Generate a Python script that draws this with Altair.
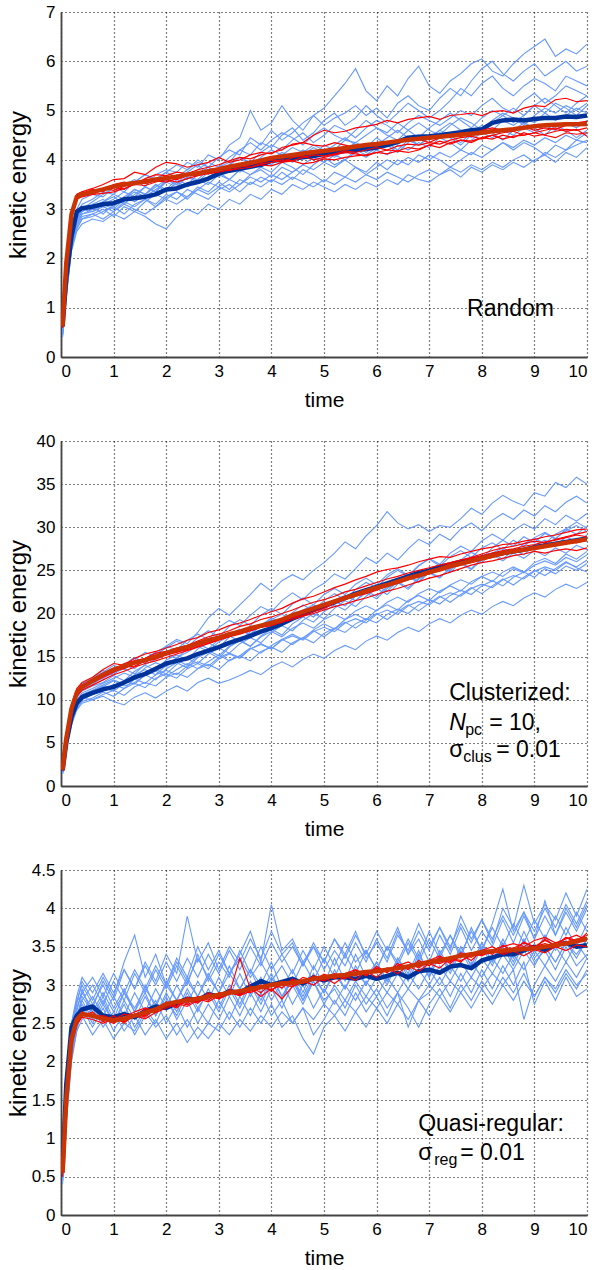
import altair as alt
import pandas as pd

# ---------------- time grid ----------------
T = [0.03, 0.1, 0.2, 0.3, 0.4,
     0.6, 0.8, 1.0, 1.2, 1.4, 1.6, 1.8, 2.0,
     2.2, 2.4, 2.6, 2.8, 3.0, 3.2, 3.4, 3.6,
     3.8, 4.0, 4.2, 4.4, 4.6, 4.8, 5.0, 5.2,
     5.4, 5.6, 5.8, 6.0, 6.2, 6.4, 6.6, 6.8,
     7.0, 7.2, 7.4, 7.6, 7.8, 8.0, 8.2, 8.4,
     8.6, 8.8, 9.0, 9.2, 9.4, 9.6, 9.8, 10.0]

XTICKS = [0, 1, 2, 3, 4, 5, 6, 7, 8, 9, 10]

# ---------------- panel 1 : Random ----------------
RND_YTICKS = [0, 1, 2, 3, 4, 5, 6, 7]
RND_DARK = [0.62, 1.6, 2.45, 2.95, 3.02,
            3.05, 3.1, 3.12, 3.2, 3.22, 3.25, 3.3, 3.4,
            3.42, 3.5, 3.55, 3.62, 3.72, 3.78, 3.82, 3.86,
            3.9, 3.98, 4.0, 4.02, 4.05, 4.08, 4.12, 4.15,
            4.18, 4.2, 4.22, 4.25, 4.3, 4.36, 4.45, 4.47,
            4.48, 4.5, 4.53, 4.56, 4.6, 4.62, 4.75, 4.8,
            4.82, 4.8, 4.83, 4.85, 4.85, 4.88, 4.87, 4.9]
RND_MEAN = [0.62, 1.9, 2.9, 3.25, 3.3,
            3.35, 3.4, 3.46, 3.5, 3.53, 3.56, 3.6, 3.63,
            3.66, 3.7, 3.73, 3.77, 3.81, 3.86, 3.9, 3.94,
            3.99, 4.04, 4.07, 4.1, 4.13, 4.16, 4.18, 4.21,
            4.24, 4.27, 4.3, 4.32, 4.35, 4.38, 4.41, 4.43,
            4.45, 4.47, 4.49, 4.51, 4.53, 4.55, 4.58, 4.6,
            4.62, 4.65, 4.68, 4.7, 4.71, 4.72, 4.72, 4.73]
RND_RED = [
    [0.6, 1.9, 2.95, 3.3, 3.35,
     3.42, 3.5, 3.6, 3.62, 3.75, 3.7, 3.85, 3.95,
     3.92, 3.85, 3.9, 3.95, 4.05, 3.95, 4.0, 4.1,
     4.15, 4.12, 4.25, 4.3, 4.35, 4.5, 4.6, 4.55,
     4.58, 4.65, 4.68, 4.72, 4.8, 4.75, 4.82, 4.85,
     4.88, 4.82, 4.9, 4.92, 4.95, 4.9, 4.98, 5.0,
     4.95, 5.05, 5.1, 5.08, 5.22, 5.25, 5.18, 5.2],
    [0.6, 1.85, 2.85, 3.2, 3.3,
     3.4, 3.35, 3.5, 3.55, 3.5, 3.62, 3.7, 3.68,
     3.75, 3.72, 3.8, 3.85, 3.9, 3.98, 4.05, 4.02,
     4.1, 4.15, 4.2, 4.32, 4.35, 4.3, 4.28, 4.35,
     4.3, 4.25, 4.3, 4.28, 4.35, 4.38, 4.4, 4.42,
     4.35, 4.45, 4.5, 4.55, 4.52, 4.6, 4.65, 4.6,
     4.62, 4.68, 4.6, 4.65, 4.62, 4.7, 4.75, 4.78],
    [0.62, 1.95, 2.9, 3.2, 3.25,
     3.3, 3.32, 3.35, 3.42, 3.5, 3.48, 3.55, 3.6,
     3.55, 3.62, 3.68, 3.72, 3.75, 3.8, 3.82, 3.85,
     3.9, 3.88, 3.95, 3.98, 3.92, 3.95, 4.02, 4.0,
     4.05, 4.08, 4.1, 4.15, 4.12, 4.18, 4.15, 4.2,
     4.3, 4.25, 4.35, 4.4, 4.38, 4.45, 4.5, 4.42,
     4.48, 4.5, 4.55, 4.5, 4.45, 4.55, 4.52, 4.55],
    [0.6, 1.9, 2.95, 3.3, 3.35,
     3.3, 3.4, 3.45, 3.4, 3.52, 3.6, 3.58, 3.55,
     3.62, 3.7, 3.68, 3.78, 3.82, 3.78, 3.85, 3.9,
     3.95, 4.0, 3.95, 4.05, 4.08, 4.0, 4.05, 4.1,
     4.15, 4.12, 4.08, 4.15, 4.2, 4.18, 4.25, 4.22,
     4.3, 4.38, 4.32, 4.4, 4.35, 4.45, 4.42, 4.5,
     4.45, 4.55, 4.48, 4.52, 4.58, 4.62, 4.6, 4.65],
    [0.62, 1.88, 2.92, 3.28, 3.32,
     3.36, 3.42, 3.38, 3.46, 3.55, 3.52, 3.58, 3.65,
     3.6, 3.68, 3.75, 3.72, 3.78, 3.85, 3.88, 3.85,
     3.92, 3.95, 4.0, 3.98, 4.05, 4.1, 4.08, 4.12,
     4.18, 4.15, 4.2, 4.25, 4.2, 4.28, 4.32, 4.3,
     4.35, 4.32, 4.4, 4.45, 4.48, 4.42, 4.5, 4.55,
     4.58, 4.5, 4.55, 4.6, 4.65, 4.58, 4.62, 4.48],
]
RND_BLUE = [
    [0.55, 1.5, 2.5, 2.9, 3.1,
     3.2, 3.35, 3.3, 3.5, 3.6, 3.45, 3.7, 3.8,
     3.75, 3.95, 3.85, 4.1, 4.0, 4.3, 4.45, 5.0,
     4.6, 4.75, 5.1, 4.8, 4.6, 4.9, 5.05, 5.3,
     5.55, 5.85, 5.4, 5.2, 5.5, 5.3, 5.65, 5.9,
     5.5, 5.35, 5.6, 5.75, 5.95, 6.05, 5.8, 5.7,
     5.95, 6.15, 6.3, 6.45, 6.1, 6.25, 6.15, 6.35],
    [0.6, 1.6, 2.6, 3.0, 3.2,
     3.3, 3.25, 3.45, 3.4, 3.55, 3.7, 3.6, 3.75,
     3.9, 3.8, 4.0, 3.85, 4.05, 4.2, 4.1, 4.45,
     4.3, 4.6, 4.4, 4.55, 4.75, 4.9, 4.7, 4.85,
     4.95, 5.1, 4.9, 5.05, 4.85, 5.15, 5.3, 5.1,
     5.0, 5.25, 5.45, 5.3, 5.6, 5.85, 6.0, 5.75,
     5.6, 5.8, 5.95, 5.7, 5.85, 6.0, 5.8, 5.9],
    [0.5, 1.4, 2.4, 2.85, 3.0,
     3.05, 3.15, 3.25, 3.1, 3.3, 3.45, 3.35, 3.6,
     3.5, 3.75, 3.9, 3.7, 3.85, 3.95, 4.2, 4.1,
     4.35, 4.25, 4.5, 4.65, 4.4, 4.55, 4.8, 4.95,
     4.7, 4.85, 5.1, 4.9, 4.75, 4.95, 5.15, 5.0,
     4.85, 5.0, 5.2, 5.45, 5.3, 5.55, 5.7, 5.45,
     5.3, 5.5, 5.65, 5.55, 5.4, 5.7, 5.6, 5.5],
    [0.45, 1.3, 2.3, 2.7, 2.9,
     2.95, 3.1, 3.0, 3.2, 3.35, 3.25, 3.4, 3.55,
     3.45, 3.65, 3.6, 3.8, 3.7, 3.9, 4.05, 3.95,
     4.15, 4.3, 4.2, 4.4, 4.55, 4.35, 4.5, 4.7,
     4.6, 4.45, 4.65, 4.8, 4.7, 4.55, 4.75, 4.9,
     4.8, 4.7, 4.85, 5.0, 4.9, 5.1, 5.25, 5.05,
     4.95, 5.2, 5.35, 5.15, 5.3, 5.5, 5.4, 5.3],
    [0.55, 1.45, 2.35, 2.75, 2.95,
     3.05, 2.9, 3.1, 3.25, 3.15, 3.3, 3.5, 3.4,
     3.6, 3.5, 3.7, 3.85, 3.75, 3.6, 3.8, 3.95,
     3.85, 4.0, 4.15, 4.05, 4.2, 4.1, 4.3, 4.2,
     4.4, 4.35, 4.5, 4.65, 4.5, 4.4, 4.6, 4.75,
     4.6, 4.5, 4.7, 4.85, 4.75, 4.6, 4.8, 4.95,
     4.85, 4.7, 4.9, 5.05, 4.95, 5.1, 5.0, 5.15],
    [0.4, 1.2, 2.2, 2.6, 2.8,
     2.85, 2.95, 3.05, 2.9, 3.1, 3.2, 3.05, 3.25,
     3.35, 3.2, 3.4, 3.55, 3.45, 3.6, 3.5, 3.7,
     3.8, 3.65, 3.85, 3.75, 3.9, 4.05, 3.95, 4.1,
     4.0, 4.2, 4.1, 4.25, 4.35, 4.2, 4.4, 4.3,
     4.45, 4.6, 4.5, 4.35, 4.55, 4.7, 4.6, 4.8,
     4.7, 4.85, 4.75, 4.95, 4.8, 4.9, 5.05, 4.95],
    [0.6, 1.55, 2.55, 2.9, 3.05,
     3.0, 3.15, 3.3, 3.2, 3.4, 3.3, 3.5, 3.35,
     3.55, 3.45, 3.6, 3.5, 3.7, 3.6, 3.8, 3.7,
     3.85, 3.75, 3.95, 3.85, 3.7, 3.9, 4.05, 3.9,
     4.0, 4.15, 4.05, 4.2, 4.1, 4.3, 4.2, 4.35,
     4.25, 4.45, 4.35, 4.2, 4.4, 4.55, 4.45, 4.6,
     4.5, 4.65, 4.55, 4.7, 4.6, 4.75, 4.65, 4.8],
    [0.5, 1.35, 2.25, 2.65, 2.85,
     2.9, 3.0, 2.85, 3.05, 2.95, 3.15, 3.3, 3.2,
     3.35, 3.25, 3.45, 3.35, 3.55, 3.4, 3.6, 3.5,
     3.65, 3.55, 3.75, 3.6, 3.8, 3.7, 3.55, 3.75,
     3.65, 3.85, 3.75, 3.95, 3.8, 4.0, 3.9, 4.1,
     4.0, 4.15, 4.05, 4.2, 4.1, 4.3, 4.2, 4.35,
     4.25, 4.4, 4.3, 4.45, 4.35, 4.5, 4.4, 4.55],
    [0.45, 1.25, 2.15, 2.55, 2.7,
     2.8, 2.75, 2.9, 2.8, 2.95, 2.85, 2.7, 2.6,
     2.85, 3.0, 2.9, 3.1, 3.0, 3.2, 3.1, 3.3,
     3.2, 3.4, 3.3, 3.5, 3.4, 3.55, 3.45, 3.35,
     3.5, 3.4, 3.55, 3.45, 3.6, 3.5, 3.7, 3.6,
     3.55, 3.7, 3.8, 3.65, 3.85, 3.75, 3.9, 3.8,
     3.95, 3.85, 4.0, 4.1, 3.95, 4.15, 4.05, 4.25],
    [0.55, 1.5, 2.45, 2.8, 2.95,
     3.1, 3.2, 3.05, 3.25, 3.4, 3.3, 3.45, 3.6,
     3.5, 3.65, 3.55, 3.75, 3.65, 3.85, 3.75, 3.9,
     4.0, 3.9, 4.1, 4.25, 4.15, 4.3, 4.2, 4.05,
     4.2, 4.35, 4.25, 4.45, 4.3, 4.15, 4.35, 4.5,
     4.4, 4.55, 4.45, 4.3, 4.5, 4.65, 4.55, 4.4,
     4.6, 4.75, 4.65, 4.5, 4.7, 4.6, 4.45, 4.6],
    [0.5, 1.4, 2.3, 2.7, 2.9,
     3.0, 3.1, 3.2, 3.35, 3.25, 3.45, 3.35, 3.55,
     3.7, 3.6, 3.8, 3.95, 3.85, 4.05, 4.2, 4.35,
     4.2, 4.4, 4.55, 4.45, 4.3, 4.5, 4.65, 4.5,
     4.4, 4.6, 4.8, 4.65, 4.55, 4.75, 4.6, 4.45,
     4.65, 4.8, 4.95, 4.8, 4.65, 4.85, 5.0, 4.9,
     4.75, 4.9, 5.1, 4.95, 5.15, 5.05, 4.9, 5.1],
    [0.6, 1.55, 2.5, 2.85, 3.0,
     2.95, 3.05, 2.95, 3.15, 3.05, 3.2, 3.1, 3.3,
     3.2, 3.4, 3.3, 3.2, 3.4, 3.5, 3.35, 3.55,
     3.45, 3.6, 3.5, 3.65, 3.55, 3.45, 3.6, 3.5,
     3.65, 3.55, 3.7, 3.6, 3.75, 3.65, 3.55, 3.7,
     3.8, 3.7, 3.85, 3.75, 3.9, 3.8, 3.95, 3.85,
     4.0, 4.1, 3.95, 4.15, 4.05, 4.2, 4.3, 4.4],
    [0.5, 1.45, 2.4, 2.8, 3.0,
     3.15, 3.3, 3.45, 3.35, 3.55, 3.7, 3.6, 3.75,
     3.65, 3.8, 3.95, 3.85, 3.7, 3.9, 4.05, 3.9,
     4.05, 4.2, 4.1, 3.95, 4.1, 4.25, 4.15, 4.3,
     4.45, 4.3, 4.15, 4.3, 4.45, 4.6, 4.45, 4.3,
     4.45, 4.6, 4.75, 4.6, 4.45, 4.6, 4.75, 4.9,
     5.05, 4.9, 5.1, 5.25, 5.1, 4.95, 5.15, 5.3],
    [0.45, 1.3, 2.25, 2.6, 2.8,
     2.9, 2.8, 2.95, 3.1, 3.0, 2.9, 3.05, 3.2,
     3.1, 3.25, 3.4, 3.3, 3.45, 3.35, 3.5, 3.65,
     3.55, 3.7, 3.6, 3.75, 3.9, 3.8, 3.95, 3.85,
     4.0, 3.85, 3.7, 3.85, 4.0, 3.9, 4.05, 3.95,
     4.1, 4.0, 3.85, 4.0, 4.15, 4.05, 4.2, 4.35,
     4.2, 4.35, 4.25, 4.1, 4.3, 4.2, 4.4, 4.35],
]

# ---------------- panel 2 : Clusterized ----------------
CLU_YTICKS = [0, 5, 10, 15, 20, 25, 30, 35, 40]
CLU_DARK = [1.8, 5.0, 8.0, 9.6, 10.3,
            10.8, 11.2, 11.5, 12.0, 12.6, 13.0, 13.6, 14.2,
            14.5, 14.8, 15.3, 15.7, 16.1, 16.6, 17.0, 17.4,
            17.9, 18.3, 18.8, 19.4, 19.9, 20.4, 20.9, 21.3,
            21.8, 22.3, 22.7, 23.1, 23.5, 23.9, 24.3, 24.7,
            25.0, 25.4, 25.7, 26.0, 26.2, 26.5, 26.8, 27.0,
            27.2, 27.4, 27.7, 27.9, 28.1, 28.3, 28.5, 28.7]
CLU_MEAN = [1.9, 5.5, 9.0, 10.8, 11.5,
            12.2, 12.9, 13.5, 13.9, 14.3, 14.6, 15.0, 15.4,
            15.8, 16.1, 16.5, 16.9, 17.2, 17.6, 17.9, 18.3,
            18.6, 18.9, 19.3, 19.8, 20.2, 20.6, 21.0, 21.4,
            21.8, 22.2, 22.6, 23.0, 23.3, 23.7, 24.1, 24.4,
            24.8, 25.1, 25.5, 25.8, 26.1, 26.4, 26.7, 27.0,
            27.2, 27.4, 27.6, 27.8, 28.0, 28.2, 28.4, 28.6]
CLU_RED = [
    [1.9, 5.8, 9.5, 11.3, 12.0,
     12.6, 13.5, 14.2, 14.0, 14.8, 15.3, 15.6, 16.0,
     16.4, 16.9, 17.2, 17.8, 18.1, 18.6, 18.9, 19.3,
     19.8, 20.2, 20.6, 21.2, 21.7, 22.0, 22.5, 23.0,
     23.4, 23.9, 24.3, 24.8, 25.1, 25.3, 25.6, 26.0,
     26.3, 26.6, 26.5, 26.9, 27.2, 27.5, 27.7, 28.0,
     28.1, 28.4, 28.6, 28.9, 29.1, 29.4, 29.7, 29.8],
    [1.8, 5.3, 8.7, 10.6, 11.3,
     12.0, 12.6, 13.2, 13.8, 13.9, 14.5, 14.7, 15.2,
     15.5, 15.9, 16.4, 16.6, 17.0, 17.5, 17.7, 18.1,
     18.5, 18.7, 19.0, 19.5, 19.8, 20.2, 20.6, 21.2,
     21.6, 22.0, 22.3, 22.7, 23.2, 23.6, 24.0, 24.5,
     24.9, 25.3, 25.8, 26.2, 26.5, 26.9, 27.3, 27.6,
     27.8, 28.1, 28.4, 28.2, 28.6, 28.9, 29.2, 29.5],
    [1.9, 5.4, 8.9, 10.7, 11.4,
     12.3, 12.7, 13.3, 13.6, 14.2, 14.4, 14.9, 15.2,
     15.6, 15.8, 16.2, 16.7, 17.0, 17.3, 17.8, 18.0,
     18.4, 18.6, 19.0, 19.3, 19.7, 20.0, 20.4, 20.8,
     21.1, 21.5, 21.8, 22.2, 22.6, 22.9, 23.3, 23.7,
     24.1, 24.4, 24.8, 25.2, 25.6, 25.9, 26.1, 26.4,
     26.7, 26.9, 27.2, 27.0, 27.3, 27.5, 27.3, 27.6],
    [2.0, 5.6, 9.1, 11.0, 11.7,
     12.1, 13.0, 13.4, 14.2, 14.5, 14.8, 15.4, 15.6,
     16.0, 16.3, 16.8, 17.3, 17.6, 18.0, 18.5, 18.8,
     19.3, 19.6, 20.0, 20.4, 20.9, 21.3, 21.6, 22.0,
     22.5, 22.8, 23.2, 23.6, 24.0, 24.3, 24.7, 25.0,
     25.3, 25.6, 25.9, 26.2, 26.4, 26.7, 27.0, 27.3,
     27.5, 27.8, 28.0, 28.3, 28.5, 28.8, 29.1, 28.9],
    [1.8, 5.2, 8.5, 10.4, 11.1,
     11.7, 12.3, 12.9, 13.3, 13.8, 14.2, 14.5, 14.9,
     15.3, 15.7, 16.1, 16.5, 16.9, 17.3, 17.6, 18.0,
     18.4, 18.8, 19.2, 19.6, 20.0, 20.5, 20.9, 21.3,
     21.7, 22.1, 22.5, 22.9, 23.2, 23.5, 23.9, 24.3,
     24.6, 25.0, 25.3, 25.6, 25.9, 26.2, 26.5, 26.8,
     27.1, 27.3, 27.6, 27.9, 28.1, 28.4, 28.2, 28.5],
]
CLU_BLUE = [
    [1.7, 5.5, 9.0, 10.8, 11.8,
     12.4, 13.2, 14.0, 13.5, 14.6, 15.5, 15.0, 16.2,
     17.0, 16.5, 17.8, 19.5, 20.6, 19.8, 21.0, 22.2,
     23.5, 22.6, 23.8, 24.5, 23.9, 25.0, 25.9, 27.0,
     28.3, 27.5, 29.0, 30.2, 31.8, 30.5, 29.8, 30.3,
     29.5, 30.2, 30.0, 31.0, 32.2, 31.5, 32.8, 33.7,
     33.0, 32.5, 34.0, 33.6, 35.2, 34.6, 35.8, 35.0],
    [1.6, 5.0, 8.5, 10.2, 11.2,
     11.8, 12.6, 13.2, 14.0, 13.6, 14.8, 15.5, 16.2,
     15.8, 16.9, 17.6, 17.0, 18.4, 19.2, 18.6, 19.8,
     20.8, 20.2, 21.5, 22.4, 21.6, 22.8, 23.5, 24.6,
     24.0, 25.2, 26.5, 25.8, 27.0, 26.2, 27.5, 28.6,
     28.0, 29.2, 28.5, 29.8, 30.5, 29.6, 30.8, 31.6,
     30.9, 32.0, 31.3, 32.5, 31.8, 32.9, 33.6, 32.8],
    [1.8, 5.2, 8.6, 10.5, 11.0,
     11.6, 12.0, 12.8, 12.2, 13.3, 14.0, 13.4, 14.6,
     15.2, 14.6, 15.9, 16.6, 16.0, 17.3, 18.1, 17.5,
     18.6, 19.5, 18.8, 20.1, 21.0, 20.3, 21.5, 22.3,
     21.6, 22.8, 23.6, 23.0, 24.2, 25.0, 24.3, 25.5,
     26.4, 25.7, 27.0, 27.8, 27.2, 28.4, 29.2, 28.5,
     29.6, 30.4, 29.8, 31.0, 30.3, 31.4, 30.7, 31.6],
    [1.5, 4.8, 8.0, 9.8, 10.5,
     11.0, 11.6, 11.2, 12.2, 11.8, 12.9, 13.5, 13.0,
     14.1, 14.8, 14.2, 15.3, 16.0, 15.4, 16.5, 17.2,
     16.6, 17.8, 18.6, 18.0, 19.2, 20.0, 19.4, 20.6,
     21.5, 20.8, 22.0, 22.9, 22.2, 23.4, 24.3, 23.6,
     24.8, 25.6, 25.0, 26.2, 27.1, 26.4, 27.6, 28.5,
     27.8, 28.9, 28.2, 29.3, 28.6, 29.8, 30.6, 29.9],
    [1.6, 4.6, 7.6, 9.3, 10.0,
     10.6, 11.0, 11.8, 11.3, 12.4, 12.9, 12.3, 13.6,
     14.3, 13.7, 14.9, 15.5, 14.8, 16.1, 16.9, 16.2,
     17.4, 18.2, 17.5, 18.8, 19.6, 19.0, 20.2, 21.0,
     20.4, 21.5, 22.4, 21.7, 22.9, 23.6, 22.8, 24.0,
     24.7, 24.1, 25.3, 25.9, 25.2, 26.4, 27.0, 26.3,
     27.4, 26.8, 27.9, 28.5, 27.8, 28.9, 28.3, 29.1],
    [1.7, 5.1, 8.3, 10.0, 10.8,
     11.3, 11.9, 12.5, 13.1, 12.6, 13.7, 14.3, 13.8,
     14.9, 15.5, 16.2, 15.6, 16.7, 17.4, 16.8, 17.9,
     18.5, 19.2, 18.6, 19.7, 20.3, 19.6, 20.8, 21.4,
     20.9, 22.0, 22.6, 22.0, 23.1, 23.7, 23.0, 24.1,
     24.8, 24.2, 25.2, 25.8, 25.1, 26.2, 26.8, 26.1,
     27.0, 26.4, 27.3, 26.7, 27.6, 27.0, 27.9, 27.4],
    [1.5, 4.5, 7.4, 9.0, 9.8,
     10.2, 10.9, 10.4, 11.3, 11.9, 11.4, 12.5, 13.0,
     12.5, 13.6, 14.2, 13.6, 14.7, 15.3, 14.8, 15.9,
     16.5, 15.9, 17.0, 17.6, 17.0, 18.1, 18.8, 18.2,
     19.3, 19.9, 19.3, 20.4, 21.0, 20.4, 21.5, 22.1,
     21.5, 22.6, 23.2, 22.6, 23.7, 24.3, 23.7, 24.8,
     25.4, 24.8, 25.9, 26.4, 25.8, 26.9, 26.3, 27.2],
    [1.6, 4.7, 7.8, 9.5, 10.2,
     10.0, 10.6, 11.1, 10.5, 11.5, 12.0, 11.6, 12.6,
     13.1, 12.6, 13.6, 14.1, 13.5, 14.6, 15.1, 14.5,
     15.6, 16.1, 15.5, 16.6, 17.2, 16.6, 17.7, 18.3,
     17.8, 18.8, 19.4, 18.9, 19.9, 20.5, 20.0, 21.0,
     21.6, 21.1, 22.1, 22.7, 22.2, 23.2, 23.8, 23.2,
     24.2, 24.8, 24.2, 25.2, 24.6, 25.5, 25.0, 25.8],
    [1.4, 4.3, 7.1, 8.8, 9.6,
     10.0, 10.4, 9.8, 9.4, 10.3, 10.8, 10.2, 11.0,
     11.6, 11.0, 12.0, 12.5, 11.9, 12.3, 12.8, 13.4,
     12.9, 13.8, 14.4, 13.8, 14.7, 15.3, 14.8, 15.7,
     16.3, 15.8, 16.8, 17.4, 16.9, 17.8, 18.4, 17.9,
     18.8, 19.4, 18.9, 19.8, 20.4, 19.9, 20.8, 21.4,
     20.9, 21.8, 22.4, 21.9, 22.8, 23.4, 22.9, 23.6],
    [1.7, 5.0, 8.2, 9.9, 10.6,
     11.1, 11.7, 12.3, 11.8, 12.9, 13.5, 12.9, 14.0,
     14.6, 14.0, 15.1, 15.7, 15.1, 16.2, 16.8, 16.2,
     17.3, 17.9, 17.3, 18.3, 18.9, 18.3, 19.3, 19.9,
     19.3, 20.3, 20.9, 20.3, 21.3, 21.9, 21.3, 22.3,
     22.9, 22.4, 23.3, 23.9, 23.4, 24.3, 24.8, 24.3,
     25.2, 24.7, 25.6, 26.1, 25.6, 26.5, 26.0, 26.8],
    [1.8, 5.3, 8.8, 10.6, 11.4,
     12.0, 12.5, 13.1, 13.6, 13.0, 14.1, 14.7, 15.3,
     14.8, 15.9, 16.5, 15.9, 17.0, 17.6, 18.2, 17.6,
     18.7, 19.3, 19.9, 19.3, 20.4, 21.0, 20.4, 21.5,
     22.1, 21.5, 22.6, 23.2, 22.6, 23.7, 24.3, 23.7,
     24.8, 25.4, 24.8, 25.9, 26.5, 25.9, 27.0, 27.6,
     27.0, 28.1, 28.7, 28.1, 29.2, 29.8, 29.2, 30.1],
    [1.6, 4.9, 8.1, 9.7, 10.4,
     10.9, 11.4, 11.0, 11.9, 12.4, 11.9, 12.9, 13.4,
     12.9, 13.9, 14.4, 13.9, 14.9, 15.4, 14.9, 15.9,
     16.4, 15.9, 16.9, 17.4, 16.9, 17.9, 18.4, 17.9,
     18.9, 19.4, 18.9, 19.9, 20.4, 19.9, 20.9, 21.4,
     21.0, 21.9, 22.4, 22.0, 22.9, 23.4, 23.0, 23.9,
     24.4, 24.0, 24.9, 25.4, 25.0, 25.9, 25.4, 26.2],
    [1.9, 5.6, 9.2, 11.2, 11.9,
     12.5, 13.4, 12.8, 14.1, 14.9, 14.2, 15.3, 16.0,
     16.8, 16.1, 17.2, 18.0, 17.3, 18.5, 19.3, 18.6,
     19.8, 20.6, 19.9, 21.1, 21.8, 21.0, 22.2, 22.9,
     22.2, 23.4, 24.1, 23.3, 24.5, 25.2, 24.4, 25.6,
     26.3, 25.5, 26.6, 27.3, 26.5, 27.6, 28.2, 27.4,
     28.5, 27.8, 28.8, 29.4, 28.7, 29.6, 30.2, 29.5],
    [1.5, 4.6, 7.7, 9.4, 10.1,
     10.7, 11.5, 12.2, 11.6, 12.0, 12.8, 13.3, 12.7,
     13.5, 14.2, 13.6, 14.4, 15.2, 14.5, 15.1, 16.0,
     15.4, 16.3, 17.0, 16.4, 17.2, 18.0, 17.3, 18.2,
     19.0, 18.3, 19.2, 20.0, 19.3, 20.2, 21.0, 20.3,
     21.2, 22.0, 21.3, 22.2, 23.0, 22.3, 23.2, 24.0,
     23.3, 24.2, 25.0, 24.4, 25.2, 26.0, 25.3, 24.8],
]

# ---------------- panel 3 : Quasi-regular ----------------
QRG_YTICKS = [0, 0.5, 1, 1.5, 2, 2.5, 3, 3.5, 4, 4.5]
QRG_DARK = [0.6, 1.7, 2.45, 2.6, 2.68,
            2.72, 2.6, 2.58, 2.62, 2.58, 2.66, 2.72, 2.7,
            2.76, 2.82, 2.8, 2.88, 2.85, 2.92, 2.9, 2.98,
            3.05, 3.0, 3.04, 3.08, 3.02, 3.1, 3.06, 3.1,
            3.1, 3.08, 3.12, 3.08, 3.12, 3.16, 3.1, 3.18,
            3.2, 3.16, 3.24, 3.26, 3.22, 3.32, 3.36, 3.4,
            3.4, 3.45, 3.5, 3.46, 3.52, 3.55, 3.5, 3.52]
QRG_MEAN = [0.55, 1.5, 2.3, 2.55, 2.62,
            2.6, 2.56, 2.54, 2.56, 2.6, 2.64, 2.68, 2.75,
            2.78, 2.8, 2.82, 2.85, 2.87, 2.9, 2.92, 2.95,
            2.97, 3.0, 3.02, 3.03, 3.05, 3.08, 3.1, 3.12,
            3.13, 3.15, 3.17, 3.18, 3.2, 3.22, 3.24, 3.27,
            3.3, 3.32, 3.35, 3.38, 3.4, 3.43, 3.44, 3.45,
            3.46, 3.47, 3.48, 3.5, 3.52, 3.54, 3.57, 3.6]
QRG_RED = [
    [0.55, 1.45, 2.25, 2.5, 2.6,
     2.62, 2.55, 2.5, 2.58, 2.65, 2.7, 2.66, 2.74,
     2.8, 2.76, 2.85, 2.8, 2.9, 2.88, 3.35, 2.95,
     3.0, 2.92, 3.05, 3.0, 3.1, 3.06, 3.14, 3.08,
     3.15, 3.2, 3.12, 3.22, 3.18, 3.25, 3.3, 3.22,
     3.32, 3.38, 3.3, 3.42, 3.36, 3.45, 3.5, 3.42,
     3.48, 3.55, 3.5, 3.58, 3.52, 3.62, 3.58, 3.65],
    [0.6, 1.55, 2.35, 2.58, 2.65,
     2.58, 2.6, 2.55, 2.62, 2.58, 2.68, 2.64, 2.78,
     2.72, 2.84, 2.78, 2.9, 2.84, 2.94, 2.88, 2.98,
     2.9, 3.02, 2.96, 3.08, 3.02, 3.12, 3.05, 3.15,
     3.08, 3.2, 3.12, 3.24, 3.16, 3.28, 3.2, 3.32,
     3.25, 3.36, 3.28, 3.4, 3.32, 3.45, 3.4, 3.52,
     3.44, 3.56, 3.48, 3.6, 3.5, 3.62, 3.55, 3.68],
    [0.55, 1.5, 2.3, 2.55, 2.6,
     2.65, 2.52, 2.6, 2.5, 2.62, 2.58, 2.7, 2.76,
     2.7, 2.82, 2.76, 2.88, 2.82, 2.92, 2.86, 2.96,
     2.85, 2.95, 2.82, 2.98, 3.05, 3.0, 3.1, 3.02,
     3.12, 3.06, 3.18, 3.1, 3.22, 3.15, 3.25, 3.18,
     3.28, 3.22, 3.35, 3.3, 3.42, 3.38, 3.45, 3.4,
     3.44, 3.38, 3.46, 3.42, 3.5, 3.45, 3.52, 3.5],
    [0.5, 1.4, 2.2, 2.48, 2.58,
     2.55, 2.5, 2.56, 2.52, 2.6, 2.56, 2.64, 2.7,
     2.76, 2.72, 2.8, 2.86, 2.82, 2.88, 2.94, 2.9,
     2.96, 3.02, 3.0, 2.98, 3.04, 3.1, 3.06, 3.12,
     3.1, 3.16, 3.14, 3.2, 3.18, 3.24, 3.22, 3.28,
     3.3, 3.35, 3.32, 3.38, 3.42, 3.4, 3.46, 3.5,
     3.54, 3.5, 3.58, 3.62, 3.55, 3.6, 3.65, 3.58],
    [0.55, 1.5, 2.3, 2.52, 2.6,
     2.6, 2.58, 2.52, 2.56, 2.62, 2.6, 2.68, 2.72,
     2.78, 2.74, 2.82, 2.78, 2.86, 2.9, 2.86, 2.92,
     2.98, 2.94, 3.0, 3.06, 3.02, 3.08, 3.12, 3.1,
     3.14, 3.12, 3.18, 3.16, 3.22, 3.2, 3.26, 3.24,
     3.3, 3.28, 3.34, 3.32, 3.38, 3.4, 3.42, 3.45,
     3.48, 3.46, 3.5, 3.54, 3.5, 3.56, 3.6, 3.62],
]
QRG_BLUE = [
    [0.45, 1.3, 2.1, 2.5, 2.9,
     2.7, 3.05, 2.8, 3.2, 2.95, 3.3, 3.05, 3.4,
     3.15, 3.9, 3.3, 3.55, 3.2, 3.5, 3.3, 3.6,
     3.35, 3.7, 3.4, 3.55, 3.25, 3.5, 3.3, 3.6,
     3.4, 3.7, 3.35, 3.55, 3.3, 3.65, 3.45, 3.8,
     3.5, 3.75, 3.45, 3.9, 3.6, 3.85, 3.55, 4.0,
     3.75, 4.3, 3.8, 4.05, 3.85, 4.2, 3.9, 4.25],
    [0.6, 1.6, 2.4, 2.75, 3.05,
     2.8, 3.1, 2.85, 3.3, 3.65, 3.1, 3.4, 3.0,
     3.35, 3.1, 3.5, 3.2, 3.45, 3.15, 3.4, 3.7,
     3.3, 4.05, 3.45, 3.6, 3.3, 3.5, 3.2, 3.45,
     3.25, 3.55, 3.3, 3.6, 3.35, 3.7, 3.4, 3.6,
     3.3, 3.65, 3.4, 3.75, 3.45, 3.7, 3.5, 3.85,
     3.55, 3.9, 3.6, 4.1, 3.65, 3.95, 3.7, 4.0],
    [0.5, 1.45, 2.2, 2.6, 2.8,
     3.0, 2.75, 3.05, 2.8, 3.15, 2.9, 3.2, 2.95,
     3.25, 3.0, 3.4, 3.05, 3.3, 3.1, 3.45, 3.15,
     3.5, 3.2, 3.4, 3.15, 3.45, 3.2, 3.5, 3.25,
     3.55, 3.3, 3.45, 3.2, 3.5, 3.3, 3.6, 3.35,
     3.7, 3.4, 3.65, 3.35, 3.75, 3.45, 3.8, 4.25,
     3.7, 3.95, 3.6, 3.9, 3.65, 4.0, 3.75, 4.05],
    [0.55, 1.5, 2.3, 2.65, 2.95,
     2.6, 2.85, 2.55, 2.9, 2.65, 3.0, 2.7, 3.05,
     2.8, 3.1, 2.85, 3.15, 2.9, 3.25, 2.95, 3.2,
     3.0, 3.3, 2.95, 3.2, 2.9, 3.25, 3.0, 3.35,
     3.05, 3.4, 3.1, 3.3, 3.05, 3.35, 3.15, 3.45,
     3.1, 3.4, 3.2, 3.5, 3.25, 3.55, 3.3, 3.6,
     3.35, 3.7, 3.4, 3.65, 3.45, 3.75, 3.5, 3.8],
    [0.4, 1.2, 2.0, 2.4, 2.7,
     2.45, 2.7, 2.4, 2.65, 2.35, 2.6, 2.8, 2.5,
     2.75, 2.45, 2.7, 2.5, 2.8, 2.55, 2.85, 2.6,
     2.9, 2.6, 2.8, 2.5, 2.7, 2.35, 2.55, 2.8,
     2.6, 2.9, 2.65, 2.85, 2.6, 2.9, 2.7, 2.45,
     2.75, 2.95, 2.7, 3.0, 2.8, 3.05, 2.85, 3.1,
     2.9, 3.15, 2.85, 3.1, 2.95, 3.2, 3.0, 3.15],
    [0.5, 1.35, 2.15, 2.5, 2.6,
     2.35, 2.55, 2.3, 2.5, 2.4, 2.65, 2.45, 2.6,
     2.35, 2.55, 2.3, 2.5, 2.4, 2.65, 2.45, 2.7,
     2.5, 2.75, 2.45, 2.6, 2.3, 2.1, 2.45, 2.6,
     2.4, 2.65, 2.45, 2.7, 2.5, 2.75, 2.55, 2.8,
     2.6, 2.85, 2.65, 2.9, 2.7, 2.95, 2.75, 3.0,
     2.8, 3.05, 2.85, 3.1, 2.9, 3.15, 2.95, 3.2],
    [0.6, 1.6, 2.45, 2.8, 3.0,
     2.75, 3.0, 2.7, 2.95, 2.65, 2.9, 2.6, 2.85,
     2.55, 2.8, 2.5, 2.75, 2.55, 2.85, 2.6, 2.9,
     2.65, 2.95, 2.7, 3.0, 2.75, 3.05, 2.8, 2.95,
     2.7, 3.0, 2.75, 2.95, 2.7, 2.9, 2.45, 2.8,
     2.9, 3.1, 2.85, 3.15, 2.9, 3.2, 2.95, 3.25,
     3.0, 3.3, 2.75, 3.05, 2.8, 3.1, 2.85, 2.95],
    [0.55, 1.4, 2.2, 2.55, 2.8,
     2.55, 2.8, 2.5, 2.75, 2.45, 2.7, 2.5, 2.8,
     2.6, 2.9, 2.65, 2.95, 2.7, 3.0, 2.75, 3.05,
     2.8, 3.1, 2.85, 3.05, 2.8, 3.1, 2.9, 3.15,
     2.95, 3.2, 3.0, 3.25, 3.0, 3.3, 3.05, 3.35,
     3.1, 3.4, 3.15, 3.45, 3.2, 3.5, 3.25, 3.55,
     3.3, 3.6, 3.35, 3.5, 3.3, 3.55, 3.4, 3.6],
    [0.5, 1.3, 2.1, 2.45, 2.65,
     2.85, 2.6, 2.85, 2.6, 2.9, 2.65, 2.95, 2.7,
     3.0, 2.75, 3.05, 2.8, 3.1, 2.85, 3.15, 2.85,
     3.1, 2.8, 3.05, 2.75, 3.0, 2.7, 2.95, 2.75,
     3.0, 2.8, 3.05, 2.85, 3.1, 2.9, 3.15, 2.95,
     3.2, 3.0, 3.25, 3.05, 3.3, 3.1, 3.35, 3.15,
     3.4, 3.2, 3.45, 3.25, 3.5, 3.3, 3.55, 3.35],
    [0.65, 1.7, 2.5, 2.85, 3.1,
     2.9, 3.15, 2.9, 3.2, 2.95, 3.25, 3.0, 3.3,
     3.05, 3.35, 3.1, 3.4, 3.15, 3.45, 3.2, 3.5,
     3.25, 3.55, 3.3, 3.5, 3.25, 3.55, 3.3, 3.6,
     3.35, 3.65, 3.4, 3.7, 3.45, 3.75, 3.4, 3.7,
     3.45, 3.75, 3.5, 3.8, 3.55, 3.85, 3.6, 3.9,
     3.65, 3.95, 3.7, 4.0, 3.75, 4.05, 3.8, 4.1],
    [0.45, 1.25, 2.05, 2.4, 2.55,
     2.7, 2.45, 2.65, 2.4, 2.6, 2.35, 2.55, 2.3,
     2.5, 2.25, 2.45, 2.3, 2.5, 2.35, 2.55, 2.4,
     2.6, 2.45, 2.65, 2.5, 2.7, 2.55, 2.75, 2.6,
     2.8, 2.65, 2.85, 2.7, 2.9, 2.75, 2.95, 2.8,
     3.0, 2.85, 3.05, 2.9, 3.1, 2.95, 3.15, 3.0,
     3.2, 2.55, 3.0, 3.25, 3.05, 3.3, 3.1, 3.35],
    [0.55, 1.55, 2.35, 2.7, 2.9,
     3.1, 2.85, 3.15, 2.9, 3.2, 2.95, 3.25, 3.0,
     3.3, 3.05, 3.35, 3.1, 3.4, 3.15, 3.35, 3.1,
     3.3, 3.05, 3.25, 3.0, 3.3, 3.05, 3.35, 3.1,
     3.4, 3.15, 3.45, 3.2, 3.5, 3.25, 3.55, 3.3,
     3.6, 3.35, 3.65, 3.4, 3.7, 3.45, 3.75, 3.5,
     3.8, 3.55, 3.85, 3.6, 3.9, 3.65, 3.95, 3.7],
    [0.5, 1.4, 2.25, 2.6, 2.75,
     2.5, 2.75, 2.5, 2.8, 2.55, 2.85, 2.6, 2.9,
     2.65, 2.95, 2.7, 2.9, 2.65, 2.95, 2.7, 3.0,
     2.75, 3.05, 2.8, 3.1, 2.85, 3.15, 2.9, 3.2,
     2.95, 3.25, 3.0, 3.3, 3.05, 3.35, 3.1, 3.4,
     3.15, 3.45, 3.2, 3.5, 3.25, 3.55, 3.3, 3.5,
     3.25, 3.55, 3.3, 3.45, 3.2, 3.5, 3.25, 3.4],
    [0.6, 1.65, 2.5, 2.8, 2.85,
     2.65, 2.9, 2.65, 2.9, 2.7, 2.95, 2.75, 3.0,
     2.8, 3.05, 2.85, 3.1, 2.9, 3.15, 2.95, 3.2,
     2.9, 3.15, 2.85, 3.1, 2.8, 3.05, 2.75, 3.0,
     2.8, 3.05, 2.85, 3.1, 2.9, 3.15, 2.95, 3.2,
     3.0, 3.25, 3.05, 3.3, 3.1, 3.35, 3.15, 3.4,
     3.2, 3.45, 3.25, 3.5, 3.3, 3.55, 3.35, 3.6],
]

# ---------------- annotation texts ----------------
RND_NOTES = [("Random", 7.72, 0.83, "main", 0, 0)]
CLU_NOTES = [("Clusterized:", 7.38, 9.97, "main", 0, 0),
             ("N", 7.38, 6.49, "italic", 0, 0),
             ("pc", 7.38, 6.49, "sub", 16, 5),
             ("= 10,", 7.38, 6.49, "main", 40, 0),
             ("\u03c3", 7.38, 3.36, "main", 0, 0),
             ("clus", 7.38, 3.36, "sub", 14, 5),
             ("= 0.01", 7.38, 3.36, "main", 47, 0)]
QRG_NOTES = [("Quasi-regular:", 6.79, 1.10, "main", 0, 0),
             ("\u03c3", 6.79, 0.72, "main", 0, 0),
             ("reg", 6.79, 0.72, "sub", 16, 5),
             ("= 0.01", 6.79, 0.72, "main", 42, 0)]

# ---------------- styling ----------------
FONT = "Liberation Sans"
LIGHT = "#6699ff"
DARK = "#00339a"
RED = "#ff0000"
MEAN = "#cc3300"
PW, PH = 526, 345


def long_df(series_list, prefix):
    rows = []
    for k, s in enumerate(series_list):
        for t, v in zip(T, s):
            rows.append({"t": t, "v": v, "run": f"{prefix}{k}"})
    return pd.DataFrame(rows)


def panel(blue, dark, reds, mean, ymax, yticks, yfmt, notes):
    X = alt.X("t:Q", scale=alt.Scale(domain=[0, 10], nice=False, zero=False),
              axis=alt.Axis(values=XTICKS, title="time", format="d",
                            titleX=PW / 2, titleY=49, titleAlign="center",
                            titleBaseline="alphabetic"))
    Y = alt.Y("v:Q", scale=alt.Scale(domain=[0, ymax], nice=False),
              axis=alt.Axis(values=yticks, format=yfmt, title="kinetic energy",
                            titleX=-36, titleY=PH / 2, titleAngle=270,
                            titleFontSize=24,
                            titleAlign="center", titleBaseline="alphabetic"))
    layers = [
        alt.Chart(long_df(blue, "b")).mark_line(color=LIGHT, strokeWidth=1.1, clip=True)
        .encode(x=X, y=Y, detail="run:N"),
        alt.Chart(long_df([dark], "d")).mark_line(color=DARK, strokeWidth=4.5, strokeJoin="round", clip=True)
        .encode(x=X, y=Y),
        alt.Chart(long_df(reds, "r")).mark_line(color=RED, strokeWidth=1.2, clip=True)
        .encode(x=X, y=Y, detail="run:N"),
        alt.Chart(long_df([mean], "m")).mark_line(color=MEAN, strokeWidth=4.5, strokeJoin="round", clip=True)
        .encode(x=X, y=Y),
    ]
    for text, tx, ty, style, dx, dy in notes:
        size = 16 if style == "sub" else 23
        kw = dict(align="left", baseline="alphabetic", font=FONT, fontSize=size,
                  color="black", dx=dx, dy=dy)
        if style == "italic":
            kw["fontStyle"] = "italic"
        df = pd.DataFrame({"t": [tx], "v": [ty], "label": [text]})
        layers.append(alt.Chart(df).mark_text(**kw).encode(x=X, y=Y, text="label:N"))
    return alt.layer(*layers).properties(width=PW, height=PH)


p1 = panel(RND_BLUE, RND_DARK, RND_RED, RND_MEAN, 7, RND_YTICKS, "d", RND_NOTES)
p2 = panel(CLU_BLUE, CLU_DARK, CLU_RED, CLU_MEAN, 40, CLU_YTICKS, "d", CLU_NOTES)
p3 = panel(QRG_BLUE, QRG_DARK, QRG_RED, QRG_MEAN, 4.5, QRG_YTICKS, ".1~f", QRG_NOTES)

chart = (
    alt.vconcat(p1, p2, p3, spacing=22)
    .properties(padding={"left": 6, "top": 3, "right": 5, "bottom": 5}, background="white")
    .configure_view(stroke=None)
    .configure_axis(
        grid=True, gridColor="black", gridDash=[1, 3], gridWidth=1.2, gridOpacity=1,
        domainColor="#444444", domainWidth=1.8,
        ticks=False, labelPadding=6,
        labelFont=FONT, labelFontSize=17, labelColor="black",
        titleFont=FONT, titleFontSize=21, titleFontWeight="normal", titleColor="black",
    )
)

chart.save("out.html", embed_options={"renderer": "svg", "actions": False})
